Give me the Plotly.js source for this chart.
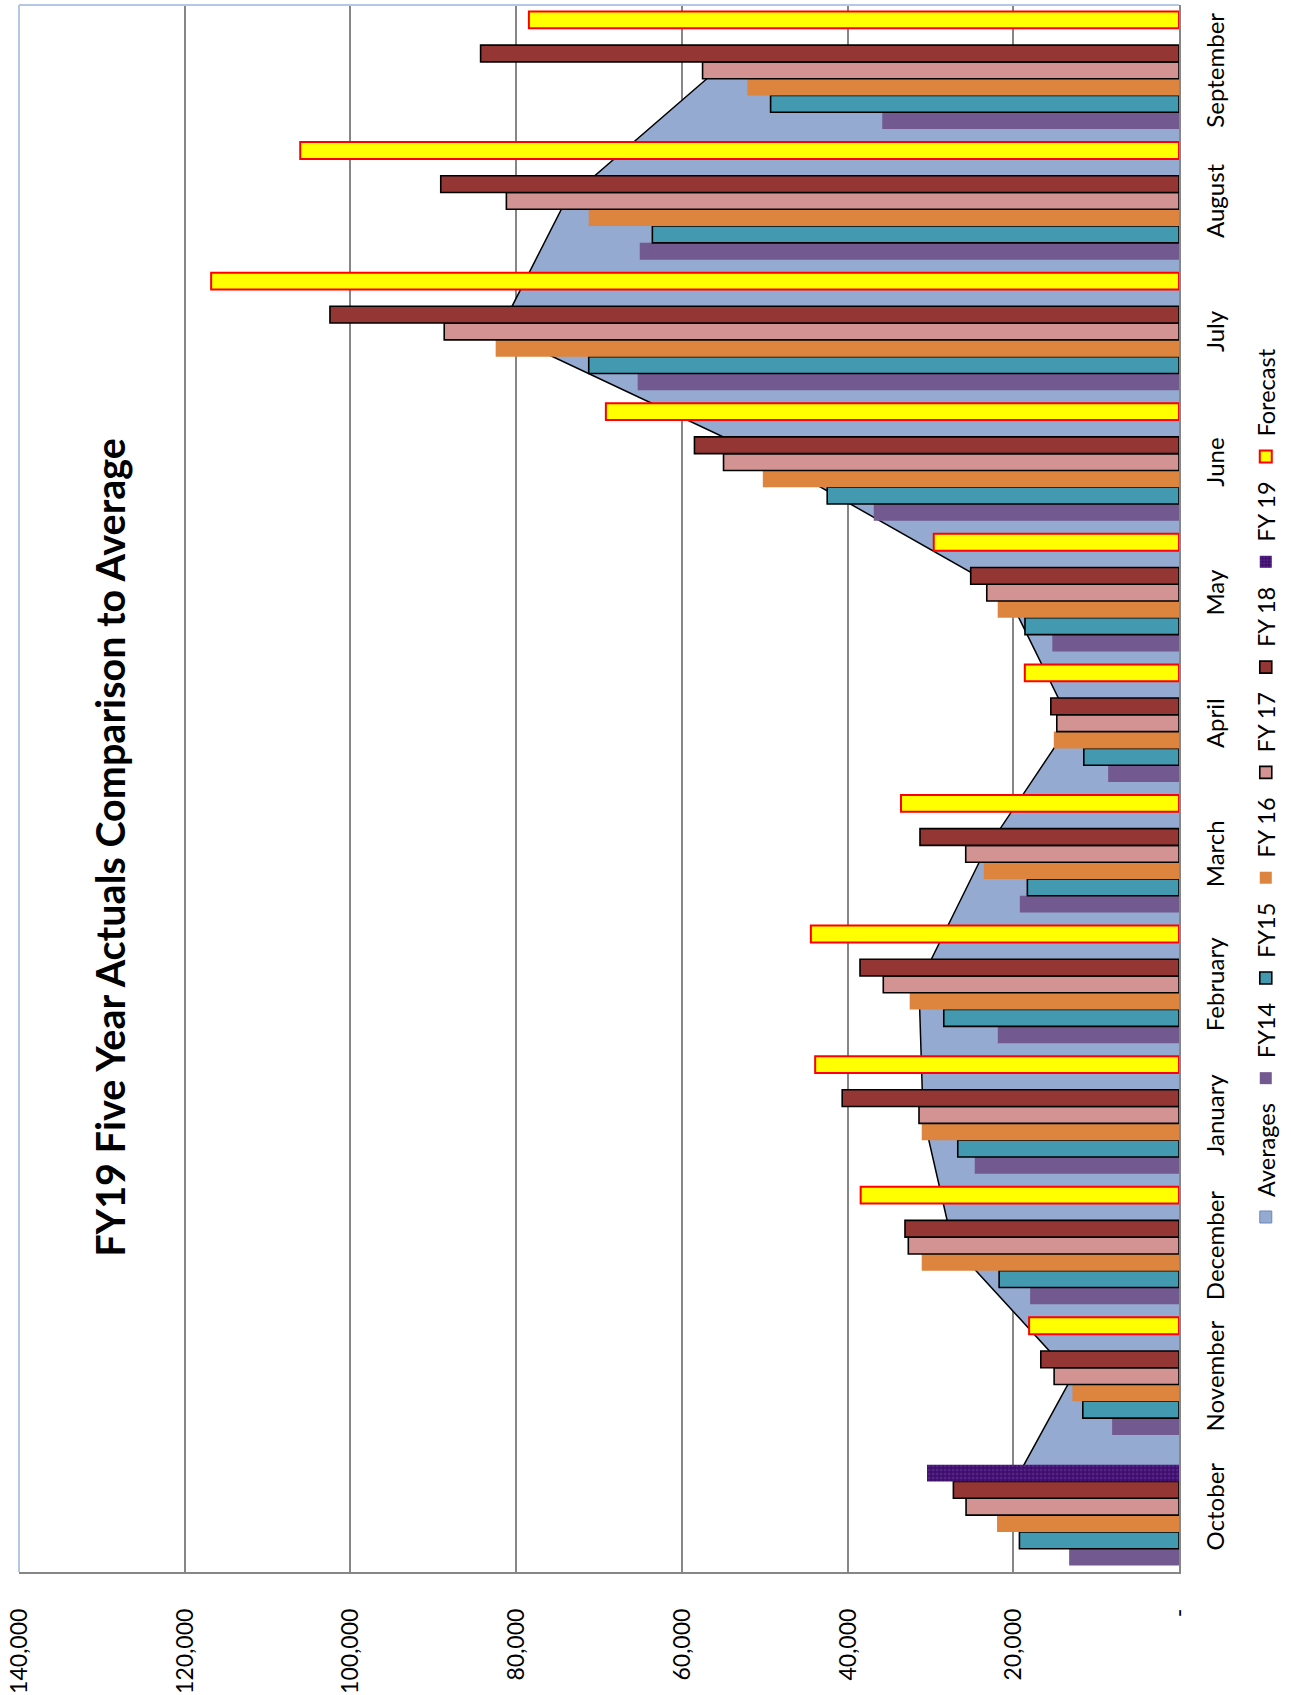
<!DOCTYPE html>
<html>
<head>
<meta charset="utf-8">
<script src="https://cdn.plot.ly/plotly-3.0.1.min.js"></script>
<style>
  html, body { margin: 0; padding: 0; background: #fff; width: 1291px; height: 1695px; overflow: hidden; }
  /* The chart is laid out landscape and turned a quarter turn counter-clockwise */
  #chart {
    position: absolute; left: 0; top: 0;
    width: 1695px; height: 1291px;
    transform-origin: 0 0;
    transform: translate(0, 1695px) rotate(-90deg);
  }
</style>
</head>
<body>
<div id="chart"></div>
<script>
// Fiscal-year months
const months = ['October', 'November', 'December', 'January', 'February', 'March',
                'April', 'May', 'June', 'July', 'August', 'September'];

// Monthly actuals per fiscal year
const fy14 = [13260, 8070, 17970, 24650, 21870, 19210, 8550, 15290, 36840, 65330, 65080, 35810];
const fy15 = [19260, 11610, 21710, 26700, 28390, 18300, 11490, 18590, 42460, 71240, 63560, 49290];
const fy16 = [21960, 12860, 31050, 31050, 32500, 23560, 15110, 21880, 50230, 82470, 71240, 52100];
const fy17 = [25700, 15070, 32670, 31380, 35690, 25740, 14750, 23200, 54970, 88680, 81180, 57500];
const fy18 = [27230, 16680, 33070, 40650, 38500, 31260, 15470, 25140, 58480, 102470, 89100, 84290];
const fy19 = [30410, null, null, null, null, null, null, null, null, null, null, null];
const forecast = [null, 18090, 38420, 43910, 44430, 33550, 18610, 29600, 69170, 116810, 106060, 78460];

// Five-year monthly averages
const averages = [21480, 12860, 27290, 30890, 31390, 23610, 13070, 20820, 48590, 82040, 74030, 55800];

// Value axis labels
const valueTicks = [0, 20000, 40000, 60000, 80000, 100000, 120000, 140000];
const valueTickText = ['-', '20,000', '40,000', '60,000', '80,000', '100,000', '120,000', '140,000'];

const FONT = 'Lato, "Open Sans", sans-serif';
const AVG_FILL = '#95AAD1';

function barTrace(name, values, fill, lineColor, lineWidth, extra) {
  const t = {
    type: 'bar', name: name, x: months, y: values,
    xaxis: 'x2', yaxis: 'y',
    marker: { color: fill, line: { color: lineColor, width: lineWidth } },
    hoverinfo: 'skip'
  };
  if (extra) Object.assign(t.marker, extra);
  return t;
}

const traces = [
  // square legend key for the averages area (holds no drawable value)
  {
    type: 'bar', name: 'Averages', x: [months[0]], y: [null], xaxis: 'x', yaxis: 'y',
    marker: { color: AVG_FILL, line: { color: '#6F87B6', width: 1 } },
    hoverinfo: 'skip'
  },
  // averages drawn as an area behind the bars
  {
    type: 'scatter', mode: 'lines', name: 'Averages', showlegend: false,
    x: months, y: averages, xaxis: 'x', yaxis: 'y',
    fill: 'tozeroy', fillcolor: AVG_FILL,
    line: { color: '#000000', width: 1.5 },
    hoverinfo: 'skip'
  },
  barTrace('FY14', fy14, '#72598F', '#72598F', 0),
  barTrace('FY15', fy15, '#4399AF', '#000000', 1.6),
  barTrace('FY 16', fy16, '#DD843E', '#DD843E', 0),
  barTrace('FY 17', fy17, '#D39392', '#000000', 1.6),
  barTrace('FY 18', fy18, '#943634', '#000000', 1.6),
  barTrace('FY 19', fy19, '#3F1068', '#3F1068', 0,
           { pattern: { shape: '.', fgcolor: '#55218D', bgcolor: '#3C0E64', size: 4, solidity: 0.45 } }),
  barTrace('Forecast', forecast, '#FFFF00', '#FF0000', 2)
];

const catAxis = {
  type: 'category', categoryorder: 'array', categoryarray: months,
  range: [-0.5, 11.5], fixedrange: true
};

const layout = {
  width: 1695, height: 1291,
  margin: { l: 123, r: 5, t: 19, b: 112, pad: 0 },
  paper_bgcolor: '#ffffff', plot_bgcolor: '#ffffff',
  barmode: 'group', bargap: 0.1, bargroupgap: 0,
  showlegend: true,
  title: {
    text: '<b>FY19 Five Year Actuals Comparison to Average</b>',
    font: { family: FONT, size: 39.5, color: '#000000' },
    xref: 'container', x: 0.5, xanchor: 'center',
    yref: 'container', y: 1 - 111 / 1291, yanchor: 'middle'
  },
  xaxis: Object.assign({}, catAxis, {
    showline: true, linecolor: '#868686', linewidth: 2,
    showgrid: false, zeroline: false, ticks: '',
    tickfont: { family: FONT, size: 24, color: '#000000' },
    ticklabelstandoff: 14
  }),
  xaxis2: Object.assign({}, catAxis, { overlaying: 'x', visible: false }),
  yaxis: {
    range: [0, 140000], fixedrange: true,
    tickvals: valueTicks, ticktext: valueTickText,
    showline: true, linecolor: '#868686', linewidth: 2,
    showgrid: true, gridcolor: '#868686', gridwidth: 2,
    zeroline: false, ticks: '',
    tickfont: { family: FONT, size: 23, color: '#000000' },
    ticklabelstandoff: 30
  },
  legend: {
    orientation: 'h',
    xref: 'container', x: 458 / 1695, xanchor: 'left',
    yref: 'container', y: (1291 - 1266) / 1291, yanchor: 'middle',
    font: { family: FONT, size: 23.5, color: '#000000' },
    bgcolor: 'rgba(0,0,0,0)', traceorder: 'normal'
  },
  shapes: [
    { type: 'line', xref: 'paper', yref: 'paper', x0: 0, x1: 1, y0: 1, y1: 1,
      line: { color: '#B4C7E7', width: 2 }, layer: 'above' },
    { type: 'line', xref: 'paper', yref: 'paper', x0: 1, x1: 1, y0: 0, y1: 1,
      line: { color: '#B4C7E7', width: 2 }, layer: 'above' }
  ]
};

Plotly.newPlot('chart', traces, layout, { staticPlot: true, displayModeBar: false });
</script>
</body>
</html>
